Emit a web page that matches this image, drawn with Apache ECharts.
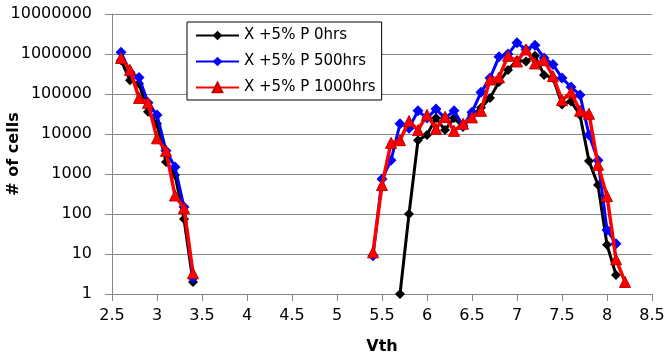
<!DOCTYPE html>
<html>
<head>
<meta charset="utf-8">
<script src="https://cdn.jsdelivr.net/npm/echarts@6/dist/echarts.min.js"></script>
<style>html,body{margin:0;padding:0;background:#fff}#c{width:671px;height:358px}</style>
</head>
<body>
<div id="c"></div>
<script>
// Vth values (two clusters)
var leftVth  = [2.6, 2.7, 2.8, 2.9, 3.0, 3.1, 3.2, 3.3, 3.4];
var rightVth = [5.4, 5.5, 5.6, 5.7, 5.8, 5.9, 6.0, 6.1, 6.2, 6.3, 6.4, 6.5, 6.6, 6.7, 6.8,
                6.9, 7.0, 7.1, 7.2, 7.3, 7.4, 7.5, 7.6, 7.7, 7.8, 7.9, 8.0, 8.1, 8.2];

// # of cells — null = no point
var left0    = [700000, 220000, 180000, 36000, 18000, 2000, 950, 75, 2];
var right0   = [null, null, null, 1, 100, 7000, 9500, 25000, 12500, 25000, 15000, 30000, 45000, 80000, 200000,
                400000, 700000, 650000, 900000, 300000, 250000, 55000, 65000, 30000, 2100, 530, 17, 3, null];

var left500  = [1100000, 350000, 260000, 60000, 30000, 3800, 1500, 150, 2.5];
var right500 = [9, 750, 2200, 18000, 14000, 38000, 25000, 42000, 25000, 38000, 16000, 35000, 110000, 250000, 850000,
                1000000, 1900000, 1300000, 1650000, 800000, 550000, 250000, 150000, 95000, 9500, 2200, 40, 18, null];

var left1000  = [800000, 400000, 80000, 60000, 7800, 3800, 290, 140, 3.3];
var right1000 = [11, 530, 6000, 7000, 21000, 12500, 30000, 13500, 27000, 12000, 18000, 26000, 38000, 230000, 260000,
                 900000, 650000, 1300000, 580000, 700000, 280000, 70000, 110000, 38000, 32000, 1700, 280, 7.4, 2];

var seriesNames = ['X +5% P 0hrs', 'X +5% P 500hrs', 'X +5% P 1000hrs'];
var xTicks = ['2.5','3','3.5','4','4.5','5','5.5','6','6.5','7','7.5','8','8.5'];

function build(lv, rv) {
  var d = [];
  for (var i = 0; i < leftVth.length; i++) d.push(lv[i] == null ? [leftVth[i], null] : [leftVth[i], lv[i]]);
  d.push([4.5, null]);
  for (var j = 0; j < rightVth.length; j++) if (rv[j] != null) d.push([rightVth[j], rv[j]]);
  return d;
}

var FONT = 'DejaVu Sans';
var chart = echarts.init(document.getElementById('c'), null, {renderer: 'canvas'});
chart.setOption({
  animation: false,
  backgroundColor: '#fff',
  grid: {left: 112, right: 19, top: 14, bottom: 64, containLabel: false, outerBoundsMode: 'none'},
  legend: {
    orient: 'vertical',
    left: 187, top: 22,
    backgroundColor: '#fff',
    borderColor: '#000', borderWidth: 1,
    padding: [6, 6, 5, 8],
    itemWidth: 43, itemHeight: 12, itemGap: 11,
    textStyle: {fontFamily: FONT, fontSize: 15, color: '#000'},
    data: seriesNames
  },
  xAxis: {
    type: 'value', min: 2.5, max: 8.5, interval: 0.5,
    name: 'Vth', nameLocation: 'middle', nameGap: 45, nameMoveOverlap: false,
    nameTextStyle: {fontFamily: FONT, fontSize: 16, fontWeight: 'bold', color: '#000'},
    axisLine: {show: true, onZero: false, lineStyle: {color: '#868686', width: 1}},
    axisTick: {show: true, length: 7, inside: false, lineStyle: {color: '#868686'}},
    axisLabel: {fontFamily: FONT, fontSize: 16, color: '#000', margin: 14,
      formatter: function (v) { return xTicks[Math.round((v - 2.5) / 0.5)]; }},
    splitLine: {show: false}
  },
  yAxis: {
    type: 'log', logBase: 10, min: 1, max: 10000000,
    name: '# of cells', nameLocation: 'middle', nameGap: 90, nameMoveOverlap: false,
    nameTextStyle: {fontFamily: FONT, fontSize: 16, fontWeight: 'bold', color: '#000'},
    axisLine: {show: true, lineStyle: {color: '#868686', width: 1}},
    axisTick: {show: true, length: 7, lineStyle: {color: '#868686'}},
    axisLabel: {fontFamily: FONT, fontSize: 16, color: '#000', margin: 20,
      formatter: function (v) { return String(Math.round(v)); }},
    splitLine: {show: true, lineStyle: {color: '#868686', width: 1}},
    minorTick: {show: false}
  },
  series: [
    {name: seriesNames[0], type: 'line', z: 2, data: build(left0, right0), connectNulls: false,
     symbol: 'diamond', symbolSize: 10, showAllSymbol: true,
     lineStyle: {color: '#000', width: 3}, itemStyle: {color: '#000'}},
    {name: seriesNames[1], type: 'line', z: 3, data: build(left500, right500), connectNulls: false,
     symbol: 'diamond', symbolSize: 11, showAllSymbol: true,
     lineStyle: {color: '#0000FF', width: 3}, itemStyle: {color: '#0000FF'}},
    {name: seriesNames[2], type: 'line', z: 4, data: build(left1000, right1000), connectNulls: false,
     symbol: 'triangle', symbolSize: 11, showAllSymbol: true,
     lineStyle: {color: '#FF0000', width: 3.5}, itemStyle: {color: '#FF0000', borderColor: '#C00000', borderWidth: 1}}
  ]
});
</script>
</body>
</html>
